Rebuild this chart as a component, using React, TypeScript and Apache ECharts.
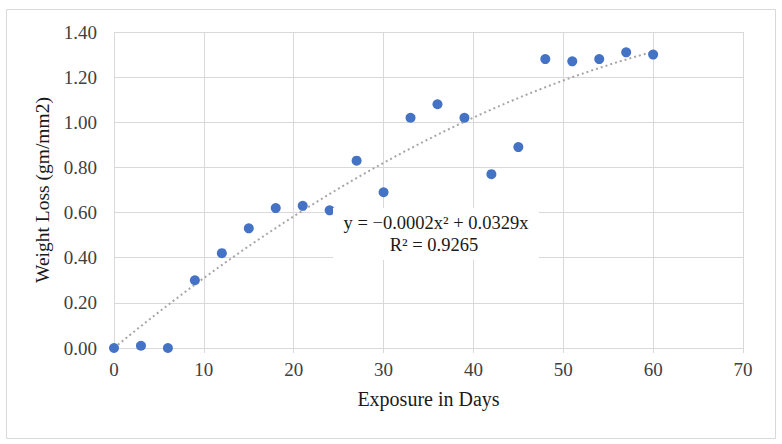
import React, { useEffect, useRef } from "react";
import * as echarts from "echarts";

const days = [0, 3, 6, 9, 12, 15, 18, 21, 24, 27, 30, 33, 36, 39, 42, 45, 48, 51, 54, 57, 60];
const weightLoss = [0.0, 0.01, 0.0, 0.3, 0.42, 0.53, 0.62, 0.63, 0.61, 0.83, 0.69, 1.02, 1.08, 1.02, 0.77, 0.89, 1.28, 1.27, 1.28, 1.31, 1.3];
const equationLines = ["y = −0.0002x² + 0.0329x", "R² = 0.9265"];
const xTitle = "Exposure in Days";
const yTitle = "Weight Loss (gm/mm2)";

// Least-squares fit of y = a x² + b x (through origin), as a spreadsheet trendline does
function fitQuadraticThroughOrigin(xs: number[], ys: number[]) {
  let s4 = 0, s3 = 0, s2 = 0, s2y = 0, s1y = 0;
  xs.forEach((x, i) => {
    const y = ys[i];
    s4 += x ** 4;
    s3 += x ** 3;
    s2 += x ** 2;
    s2y += x * x * y;
    s1y += x * y;
  });
  const det = s4 * s2 - s3 * s3;
  const a = (s2y * s2 - s3 * s1y) / det;
  const b = (s4 * s1y - s3 * s2y) / det;
  return { a, b };
}

export default function App() {
  const ref = useRef<HTMLDivElement>(null);
  useEffect(() => {
    if (!ref.current) return;
    const chart = echarts.init(ref.current, null, { renderer: "svg" });
    const { a, b } = fitQuadraticThroughOrigin(days, weightLoss);
    const xMin = days[0];
    const xMax = days[days.length - 1];
    const trend: number[][] = [];
    for (let i = 0; i <= 120; i++) {
      const x = xMin + ((xMax - xMin) * i) / 120;
      trend.push([x, a * x * x + b * x]);
    }
    const font = "'Liberation Serif', 'Times New Roman', serif";
    const labelColor = "#404040";
    chart.setOption({
      animation: false,
      backgroundColor: "#ffffff",
      textStyle: { fontFamily: font },
      grid: { left: 114, right: 39, top: 32, bottom: 96, containLabel: false },
      xAxis: {
        type: "value",
        min: 0,
        max: 70,
        interval: 10,
        name: xTitle,
        nameLocation: "middle",
        nameGap: 41,
        nameTextStyle: { fontFamily: font, fontSize: 20, color: "#1a1a1a" },
        axisLine: { show: true, lineStyle: { color: "#d9d9d9", width: 1 } },
        axisTick: { show: true, length: 5, lineStyle: { color: "#d9d9d9" } },
        axisLabel: { fontFamily: font, fontSize: 19, color: labelColor, margin: 12 },
        splitLine: { show: true, lineStyle: { color: "#d9d9d9", width: 1 } },
      },
      yAxis: {
        type: "value",
        min: 0,
        max: 1.4,
        interval: 0.2,
        name: yTitle,
        nameLocation: "middle",
        nameGap: 59,
        nameRotate: 90,
        nameTextStyle: { fontFamily: font, fontSize: 19.5, color: "#1a1a1a" },
        axisLine: { show: false },
        axisTick: { show: false },
        axisLabel: {
          fontFamily: font,
          fontSize: 19,
          color: labelColor,
          margin: 17,
          formatter: (v: number) => v.toFixed(2),
        },
        splitLine: { show: true, lineStyle: { color: "#d9d9d9", width: 1 } },
      },
      graphic: [
        {
          type: "rect",
          shape: { x: 6.5, y: 9.5, width: 769, height: 429 },
          style: { fill: "none", stroke: "#d9d9d9", lineWidth: 1 },
          silent: true,
          z: -1,
        },
        {
          type: "rect",
          shape: { x: 333, y: 208, width: 206, height: 52 },
          style: { fill: "#ffffff" },
          silent: true,
          z: 5,
        },
        {
          type: "text",
          x: 436,
          y: 223,
          style: {
            text: equationLines[0],
            fontFamily: font,
            fontSize: 18.5,
            fill: "#1a1a1a",
            align: "center",
            verticalAlign: "middle",
          },
          silent: true,
          z: 6,
        },
        {
          type: "text",
          x: 434,
          y: 245,
          style: {
            text: equationLines[1],
            fontFamily: font,
            fontSize: 18.5,
            fill: "#1a1a1a",
            align: "center",
            verticalAlign: "middle",
          },
          silent: true,
          z: 6,
        },
      ],
      series: [
        {
          type: "line",
          data: trend,
          showSymbol: false,
          smooth: false,
          lineStyle: { color: "#a6a6a6", width: 2, type: [2, 3] },
          z: 2,
        },
        {
          type: "scatter",
          data: days.map((d, i) => [d, weightLoss[i]]),
          symbol: "circle",
          symbolSize: 10,
          itemStyle: { color: "#4472C4", opacity: 1 },
          z: 3,
        },
      ],
    });
    return () => chart.dispose();
  }, []);
  return (
    <div
      ref={ref}
      style={{ position: "absolute", left: 0, top: 0, width: 782, height: 444 }}
    />
  );
}
